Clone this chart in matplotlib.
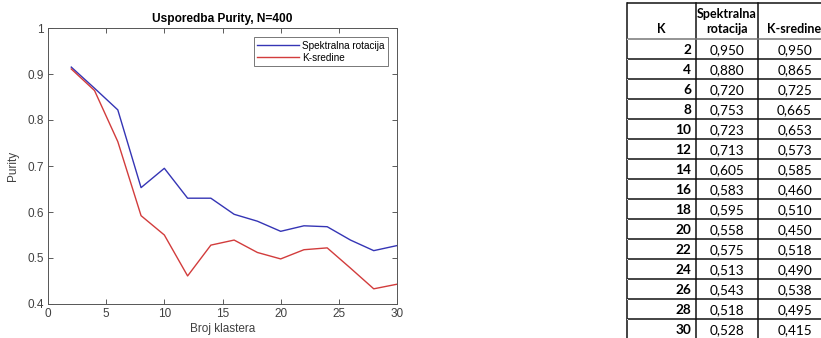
import matplotlib
matplotlib.use("Agg")
import matplotlib.pyplot as plt

# podaci sa grafa (ocitano sa slike)
K = [2, 4, 6, 8, 10, 12, 14, 16, 18, 20, 22, 24, 26, 28, 30]
spektralna = [0.915, 0.869, 0.822, 0.653, 0.695, 0.630, 0.630, 0.595,
              0.580, 0.558, 0.570, 0.568, 0.539, 0.516, 0.527]
ksredine = [0.911, 0.864, 0.753, 0.592, 0.550, 0.461, 0.528, 0.539,
            0.512, 0.498, 0.518, 0.522, 0.478, 0.433, 0.443]

# podaci iz tablice
tab_K = [2, 4, 6, 8, 10, 12, 14, 16, 18, 20, 22, 24, 26, 28, 30]
tab_spek = ["0,950", "0,880", "0,720", "0,753", "0,723", "0,713", "0,605", "0,583",
            "0,595", "0,558", "0,575", "0,513", "0,543", "0,518", "0,528"]
tab_ksr = ["0,950", "0,865", "0,725", "0,665", "0,653", "0,573", "0,585", "0,460",
           "0,510", "0,450", "0,518", "0,490", "0,538", "0,495", "0,415"]
tab_header = ["K", "Spektralna\nrotacija", "K-sredine"]

W, H = 821, 338
fig = plt.figure(figsize=(W/100, H/100), dpi=100)
plt.rcParams['font.family'] = ['Liberation Sans', 'DejaVu Sans']

gray = '#404040'
ax = fig.add_axes([48/W, 1-304/H, 349/W, 276/H])
ax.plot(K, spektralna, color='#3535b5', lw=1.0, label='Spektralna rotacija')
ax.plot(K, ksredine, color='#d23c3c', lw=1.0, label='K-sredine')
ax.set_xlim(0, 30)
ax.set_ylim(0.4, 1)
ax.set_xticks(range(0, 31, 5))
ax.set_yticks([0.4, 0.5, 0.6, 0.7, 0.8, 0.9, 1])
ax.set_yticklabels(['0.4', '0.5', '0.6', '0.7', '0.8', '0.9', '1'])
ax.tick_params(direction='in', length=3.5, width=0.6, top=True, right=True,
               labelsize=8.5, colors=gray, pad=3)
for s in ax.spines.values():
    s.set_color('#555555')
    s.set_linewidth(0.7)
ax.set_title('Usporedba Purity, N=400', fontsize=8.6, fontweight='bold', pad=4)
ax.set_xlabel('Broj klastera', fontsize=8.5, color=gray, labelpad=2)
ax.set_ylabel('Purity', fontsize=8.5, color=gray, labelpad=6)
leg = ax.legend(loc='upper right', fontsize=7.2, frameon=True, fancybox=False,
                handlelength=4.2, handletextpad=0.3, borderpad=0.35,
                labelspacing=0.2, borderaxespad=0.9)
leg.get_frame().set_edgecolor('#555555')
leg.get_frame().set_linewidth(0.7)

# tablica
tx0, tx1 = 627, 835
tax = fig.add_axes([tx0/W, 0, (tx1-tx0)/W, 1])
tax.set_xlim(0, tx1-tx0)
tax.set_ylim(H, 0)
tax.axis('off')
cols = [0, 69, 131, 208]
top, head_bot, row_h = 3, 39, 20
nrow = len(tab_K)
bottom = head_bot + row_h*nrow
tfont = ['Lato', 'DejaVu Sans']
lc = '#111111'
for x in cols:
    tax.plot([x, x], [top, bottom], color=lc, lw=1.1, clip_on=False)
tax.plot([0, cols[-1]], [top, top], color=lc, lw=1.1)
tax.plot([0, cols[-1]], [head_bot, head_bot], color='#777777', lw=1.1)
for i in range(1, nrow+1):
    y = head_bot + i*row_h
    tax.plot([0, cols[-1]], [y, y], color=lc, lw=1.1)
    tax.plot([-17, 0], [y, y], color='#dddddd', lw=0.8)
tax.plot([-17, 0], [head_bot, head_bot], color='#dddddd', lw=0.8)

c1 = (cols[0]+cols[1])/2
c2 = (cols[1]+cols[2])/2
c3 = (cols[2]+cols[3])/2 - 2
tax.text(c1, 35, tab_header[0], ha='center', va='bottom',
         fontsize=9, fontweight='bold', family=tfont)
tax.text(c2, 35, tab_header[1], ha='center', va='bottom',
         fontsize=9, fontweight='bold', family=tfont, linespacing=1.35)
tax.text(c3, 35, tab_header[2], ha='center', va='bottom',
         fontsize=9, fontweight='bold', family=tfont)
for i in range(nrow):
    yc = head_bot + i*row_h + row_h/2 + 1
    tax.text(cols[1]-5, yc, str(tab_K[i]), ha='right', va='center',
             fontsize=9.8, fontweight='bold', family=tfont)
    tax.text(c2, yc, tab_spek[i], ha='center', va='center',
             fontsize=9.8, family=tfont)
    tax.text(c3, yc, tab_ksr[i], ha='center', va='center',
             fontsize=9.8, family=tfont)

fig.savefig('out.png', dpi=100)
